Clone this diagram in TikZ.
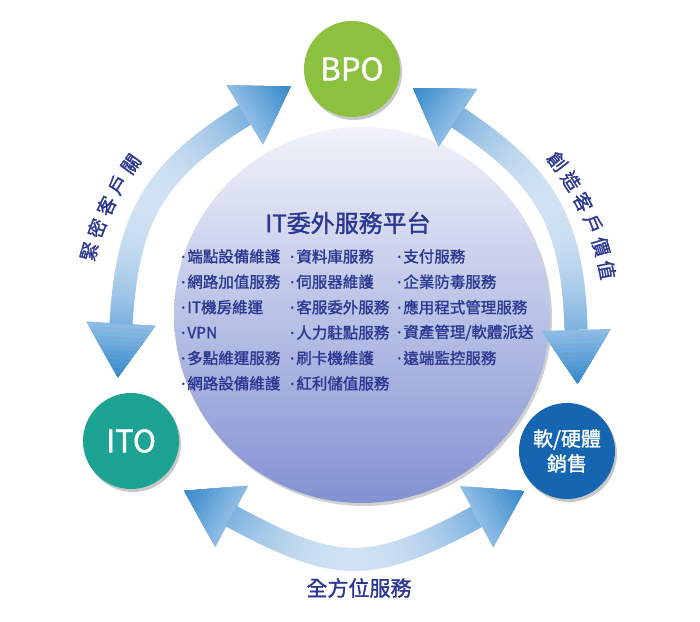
\documentclass[tikz,border=0pt]{standalone}
\usepackage{fontspec}
\setmainfont{Noto Sans CJK TC}[FakeBold=1.3]
\newfontfamily\dotfont{Noto Sans}[FakeBold=1.3]
\usetikzlibrary{decorations.markings, shadows}
\definecolor{bpogreen}{HTML}{8CC03F}
\definecolor{itoteal}{HTML}{1DA394}
\definecolor{salesblue}{HTML}{1565B0}
\definecolor{textnavy}{HTML}{2B3790}
\definecolor{hubtop}{HTML}{F0F3FA}
\definecolor{hubbottom}{HTML}{8391D2}
\definecolor{ringtip}{HTML}{3A8ACB}
\definecolor{ringbase}{HTML}{8CBCE4}
\definecolor{ringend}{HTML}{7DB2DF}
\definecolor{ringmid}{HTML}{D0E2F3}

% arrow head, shaded from base to tip; #1=1 forward, #1=-1 backward
\newcommand\ringhead[1]{%
  \foreach \k in {0,...,11}{%
    \pgfmathsetmacro\headmix{100*\k/11}%
    \fill[ringtip!\headmix!ringbase] ({#1*4.5*\k},{35-35*\k/12}) -- ({#1*54},0) -- ({#1*4.5*\k},{-35+35*\k/12}) -- cycle;
  }}

\tikzset{
  hub/.style={circle, minimum size=376bp, inner sep=0, top color=hubtop, bottom color=hubbottom,
    drop shadow={shadow xshift=2bp, shadow yshift=-3bp, fill=black!18, opacity=1}},
  stage/.style={circle, minimum size=96bp, inner sep=0, text=white,
    font=\fontsize{31bp}{34bp}\selectfont,
    drop shadow={shadow xshift=2bp, shadow yshift=-3bp, fill=black!22, opacity=1}},
  title/.style={font=\fontsize{24bp}{28bp}\selectfont, text=textnavy, inner sep=0},
  item/.style={anchor=west, font=\fontsize{15.5bp}{18bp}\selectfont, text=textnavy, inner sep=0},
  arclabel/.style={font=\fontsize{19bp}{21bp}\selectfont, text=textnavy, inner sep=0},
  ring/.style 2 args={postaction={decorate}, decoration={markings,
    mark=at position #1pt with {\ringhead{-1}},
    mark=between positions #1pt and -#2pt step 1pt with {
      \pgfmathsetmacro\ringpos{\pgfkeysvalueof{/pgf/decoration/mark info/distance from start}}
      \pgfmathsetmacro\ringm{1-min(\ringpos-#1, \pgfdecoratedpathlength-#2-\ringpos)/((\pgfdecoratedpathlength-#1-#2)/2)}
      \pgfmathsetmacro\ringmix{min(100,max(0,100*\ringm*\ringm))}
      \fill[ringend!\ringmix!ringmid] (-0.8,-11.5) rectangle (0.8,11.5);
    },
    mark=at position -#2pt with {\ringhead{1}}}}
}

\begin{document}
\begin{tikzpicture}[x=1bp, y=1bp]
\useasboundingbox (0,0) rectangle (700,622);

% platform in the middle
\node[hub] (hub) at (362,307) {};
\node[title] (platform) at (348,399) {IT委外服務平台};
\foreach \txt [count=\i] in {端點設備維護,網路加值服務,IT機房維運,VPN,多點維運服務,網路設備維護}
  \node[item] (left\i) at (181, 391-25.4*\i) {{\dotfont ·}\hspace{2bp}\txt};
\foreach \txt [count=\i] in {資料庫服務,伺服器維護,客服委外服務,人力駐點服務,刷卡機維護,紅利儲值服務}
  \node[item] (mid\i) at (290, 391-25.4*\i) {{\dotfont ·}\hspace{2bp}\txt};
\foreach \txt [count=\i] in {支付服務,企業防毒服務,應用程式管理服務,資產管理/軟體派送,遠端監控服務}
  \node[item] (right\i) at (397, 391-25.4*\i) {{\dotfont ·}\hspace{2bp}\txt};

% the three services
\node[stage, fill=bpogreen] (bpo) at (352,553) {BPO};
\node[stage, fill=itoteal] (ito) at (131,181) {ITO};
\node[stage, fill=salesblue, align=center, font=\fontsize{20bp}{25bp}\selectfont] (sales) at (567,171) {軟/硬體\\銷售};

% ring arrows
\path[ring={71}{72}] (ito.104) to[out=90, in=208, looseness=1.3] (bpo.194);
\path[ring={70}{76}] (bpo.-15) to[out=-30, in=88, looseness=1.3] (sales.80);
\path[ring={80}{67}] (ito.-50) to[out=-29, in=210, looseness=1.45] (sales.225);

% labels along the ring
\coordinate (ringc) at (349,300);
\foreach \c [count=\i] in {緊,密,客,戶,關}{
  \pgfmathsetmacro\a{164.8-5.18*(\i-1)}
  \node[arclabel, rotate=\a-90] (bond\i) at ([shift={(\a:269)}]ringc) {\c};
}
\foreach \c [count=\i] in {創,造,客,戶,價,值}{
  \pgfmathsetmacro\a{37.6-5.24*(\i-1)}
  \node[arclabel, rotate=\a-90] (value\i) at ([shift={(\a:263)}]ringc) {\c};
}
\node[arclabel, font=\fontsize{21bp}{24bp}\selectfont] (service) at (359,34) {全方位服務};
\end{tikzpicture}
\end{document}
